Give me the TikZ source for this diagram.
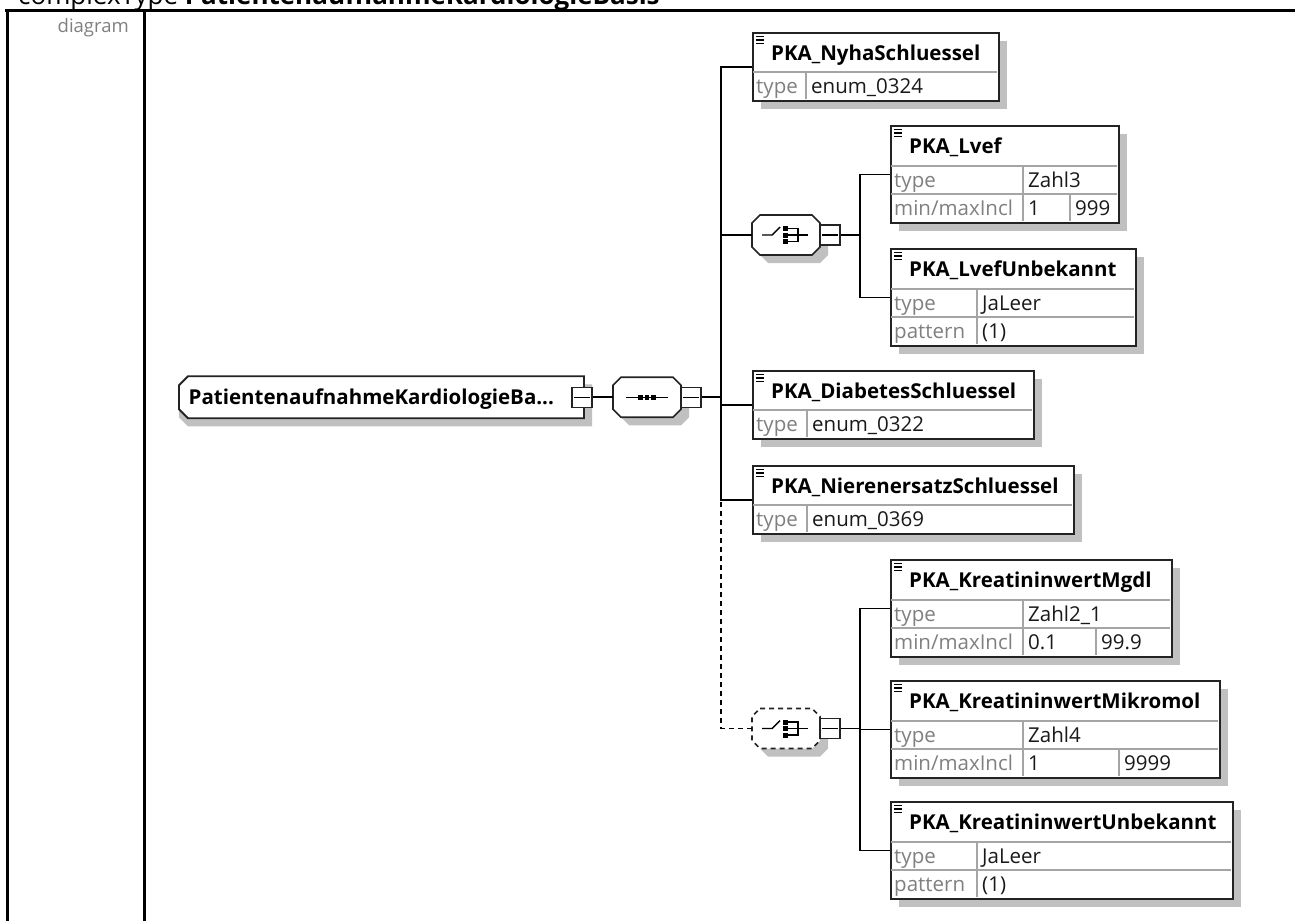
\documentclass[tikz,border=0pt]{standalone}
\usepackage{fontspec}
\setmainfont{Open Sans}
\usetikzlibrary{shadows,calc}
\definecolor{lblgray}{RGB}{128,128,128}
\definecolor{valtxt}{RGB}{25,25,25}
\definecolor{boxline}{RGB}{35,35,35}
\definecolor{divgray}{RGB}{165,165,165}
\definecolor{shadowgray}{RGB}{192,192,192}
\newcommand\ttlfont{\fontsize{20.5}{24}\selectfont\bfseries}
\newcommand\rowfont{\fontsize{20.5}{24}\selectfont}
\tikzset{
  conn/.style={line width=1.8pt, draw=black},
  dashconn/.style={conn, dash pattern=on 5pt off 4pt},
  sdw/.style={drop shadow={shadow xshift=8pt, shadow yshift=-8pt, fill=shadowgray, opacity=1}},
  elem/.style={rectangle, draw=boxline, line width=1.8pt, fill=white, anchor=north west, inner sep=0pt, sdw},
  divl/.style={draw=divgray, line width=1.2pt},
  ttl/.style={anchor=base west, inner sep=0pt, font=\ttlfont, text=black},
  lbl/.style={anchor=base west, inner sep=0pt, font=\rowfont, text=lblgray},
  val/.style={anchor=base west, inner sep=0pt, font=\rowfont, text=valtxt},
  comp/.style={rectangle, minimum width=68pt, minimum height=40pt, inner sep=0pt},
  rootbox/.style={rectangle, minimum width=405pt, minimum height=42pt, inner sep=0pt},
  outl/.style={draw=boxline, line width=1.6pt, fill=white},
  minusbox/.style={rectangle, draw=boxline, line width=1.4pt, fill=white, minimum size=20pt, inner sep=0pt},
  icon/.style={line width=1.4pt, draw=black},
}
% octagon outline round a named compositor node: name, extra style
\newcommand\octagon[2]{%
  \begin{scope}[shift={(#1.center)}]
    \fill[shadowgray] (-18,-12) -- (34,-12) -- (42,-4) -- (42,20) -- (34,28) -- (-18,28) -- (-26,20) -- (-26,-4) -- cycle;
    \path[outl,#2] (-26,-20) -- (26,-20) -- (34,-12) -- (34,12) -- (26,20) -- (-26,20) -- (-34,12) -- (-34,-12) -- cycle;
  \end{scope}}
\newcommand\minussign[1]{\draw[icon] ([xshift=3pt]#1.west) -- ([xshift=-3pt]#1.east);}
\newcommand\hdricon[2]{\draw[line width=1.1pt] (#1+4,#2+4.5) -- ++(8,0) (#1+4,#2+8) -- ++(8,0) (#1+4,#2+11.5) -- ++(8,0);}
\newcommand\ElTwo[8]{%
  \node[elem, minimum width={#4-#2}, minimum height=68] (#1) at (#2,#3) {};
  \hdricon{#2}{#3}
  \node[ttl] (#1-t) at (#2+19,#3+28.5) {#6};
  \draw[divl] (#2+1,#3+40) -- (#4-1,#3+40);
  \draw[divl] (#5,#3+40) -- (#5,#3+67);
  \node[lbl] (#1-l1) at (#2+4,#3+61) {#7};
  \node[val] (#1-v1) at (#5+5,#3+61) {#8};
}
\newcommand\ElThree[9]{%
  \node[elem, minimum width={#4-#2}, minimum height=97] (#1) at (#2,#3) {};
  \hdricon{#2}{#3}
  \node[ttl] (#1-t) at (#2+19,#3+28.5) {#6};
  \draw[divl] (#2+1,#3+41) -- (#4-1,#3+41);
  \draw[divl] (#2+1,#3+69) -- (#4-1,#3+69);
  \draw[divl] (#5,#3+41) -- (#5,#3+96);
  \node[lbl] (#1-l1) at (#2+4,#3+62) {type};
  \node[val] (#1-v1) at (#5+5,#3+62) {#7};
  \node[lbl] (#1-l2) at (#2+4,#3+90) {#8};
  \node[val] (#1-v2) at (#5+5,#3+90) {#9};
}
\newcommand\seqicon[1]{%
  \begin{scope}[shift={(#1.center)}]
    \draw[icon] (-21,0) -- (21,0);
    \fill (-8.75,-2.25) rectangle (-4.25,2.25);
    \fill (-2.25,-2.25) rectangle (2.25,2.25);
    \fill (4.25,-2.25) rectangle (8.75,2.25);
  \end{scope}}
\newcommand\choiceicon[1]{%
  \begin{scope}[shift={(#1.center)}]
    \draw[icon] (-24,0) -- (-14,0) -- (-6,-8);
    \fill (-3,-9) rectangle (2,-4);
    \fill (-3,-2.5) rectangle (2,2.5);
    \fill (-3,4) rectangle (2,9);
    \draw[icon] (2,-6.5) -- (12,-6.5) -- (12,6.5) -- (2,6.5) (2,0) -- (22,0);
  \end{scope}}
\begin{document}
\begin{tikzpicture}[x=1pt,y=-1pt]
\clip (0,0) rectangle (1295,921);
\fill[white] (0,0) rectangle (1295,921);
% page frame
\node[anchor=base west, inner sep=0pt, font=\fontsize{26}{31}\selectfont] (title) at (18,4) {complexType \textbf{PatientenaufnahmeKardiologieBasis}};
\draw[line width=3pt] (5,10) -- (1295,10);
\draw[line width=3pt] (7,10) -- (7,921);
\draw[line width=3pt] (144,10) -- (144,921);
\node[anchor=base east, inner sep=0pt, font=\fontsize{18.5}{22}\selectfont, text=lblgray] (diaglbl) at (129,32) {diagram};
% root and sequence
\node[rootbox] (root) at (381.5,397.25) {};
\begin{scope}[shift={(root.center)}]
  \fill[shadowgray] (-193.5,-13) -- (210.5,-13) -- (210.5,29) -- (-193.5,29) -- (-202.5,20) -- (-202.5,-4) -- cycle;
  \path[outl, line width=1.8pt] (-193.5,-21) -- (202.5,-21) -- (202.5,21) -- (-193.5,21) -- (-202.5,12) -- (-202.5,-12) -- cycle;
\end{scope}
\node[ttl] (rootlbl) at (188.5,404.5) {PatientenaufnahmeKardiologieBa...};
\node[minusbox] (rootm) at (582,397.25) {};
\minussign{rootm}
\node[comp] (seq) at (647,397.25) {};
\octagon{seq}{}
\seqicon{seq}
\node[minusbox] (seqm) at (691,397.25) {};
\minussign{seqm}
\coordinate (bus) at (721,397.25);
% elements
\ElTwo{nyha}{752}{32}{998}{806}{PKA\_NyhaSchluessel}{type}{enum\_0324}
\ElThree{lvef}{890}{125}{1118}{1023}{PKA\_Lvef}{Zahl3}{min/maxIncl}{1}
\draw[divl] (1070,194) -- (1070,221);
\node[val] (lvef-v3) at (1075,215) {999};
\ElThree{lvefu}{890}{248}{1135}{977}{PKA\_LvefUnbekannt}{JaLeer}{pattern}{(1)}
\ElTwo{diab}{752}{370}{1033}{807}{PKA\_DiabetesSchluessel}{type}{enum\_0322}
\ElTwo{nier}{752}{465}{1073}{807}{PKA\_NierenersatzSchluessel}{type}{enum\_0369}
\ElThree{mgdl}{890}{559}{1171}{1023}{PKA\_KreatininwertMgdl}{Zahl2\_1}{min/maxIncl}{0.1}
\draw[divl] (1096,628) -- (1096,655);
\node[val] (mgdl-v3) at (1101,649) {99.9};
\ElThree{mikro}{890}{680}{1219}{1023}{PKA\_KreatininwertMikromol}{Zahl4}{min/maxIncl}{1}
\draw[divl] (1119,749) -- (1119,776);
\node[val] (mikro-v3) at (1124,770) {9999};
\ElThree{kunb}{890}{801}{1232}{977}{PKA\_KreatininwertUnbekannt}{JaLeer}{pattern}{(1)}
% choice 1
\node[comp] (ch1) at (786,235) {};
\octagon{ch1}{}
\choiceicon{ch1}
\node[minusbox] (ch1m) at (830,235) {};
\minussign{ch1m}
\coordinate (ib1) at (860,235);
% choice 2 (optional)
\node[comp] (ch2) at (786,728.5) {};
\octagon{ch2}{dash pattern=on 5pt off 4pt}
\choiceicon{ch2}
\node[minusbox] (ch2m) at (830,728.5) {};
\minussign{ch2m}
\coordinate (ib2) at (860,728.5);
% connectors
\draw[conn] (rootm.east) -- (seq.west);
\draw[conn] (seqm.east) -- (bus);
\draw[conn] (nyha.west) -| (bus);
\draw[conn] (ch1.west) -| (bus);
\draw[conn] (diab.west) -| (bus);
\draw[conn] (nier.west) -| (bus);
\draw[dashconn] (ch2.west) -| (nier.west -| bus);
\draw[conn] (ch1m.east) -- (ib1);
\draw[conn] (lvef.west) -| (ib1);
\draw[conn] (lvefu.west) -| (ib1);
\draw[conn] (ch2m.east) -- (ib2);
\draw[conn] (mgdl.west) -| (ib2);
\draw[conn] (mikro.west) -| (ib2);
\draw[conn] (kunb.west) -| (ib2);
\end{tikzpicture}
\end{document}
